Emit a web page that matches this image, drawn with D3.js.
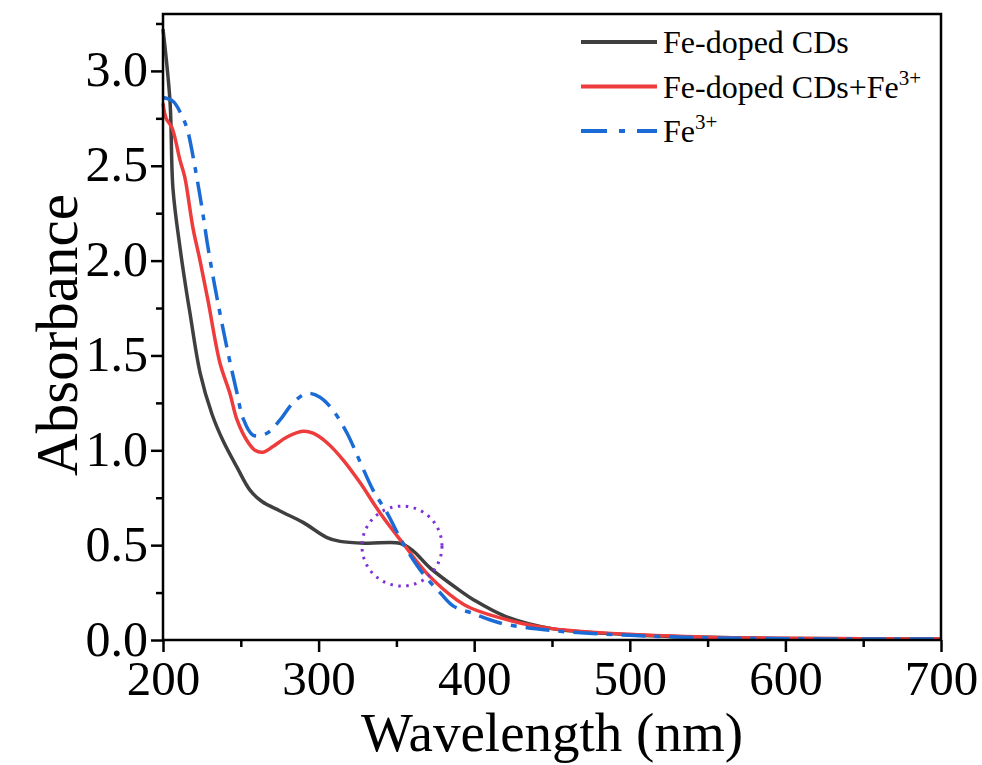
<!DOCTYPE html>
<html>
<head>
<meta charset="utf-8">
<script src="https://cdn.jsdelivr.net/npm/d3@7/dist/d3.min.js"></script>
<style>
  body { margin: 0; background: #fff; }
  svg { display: block; font-family: "Liberation Serif", "Times New Roman", serif; }
</style>
</head>
<body>
<div id="chart"></div>
<script>
// wavelength (nm) and absorbance
const cdsX = [200, 204.5, 206.4, 210.9, 215.4, 217.4, 223.8, 231.5, 238.6, 247.6, 255.9, 263.6, 275.2, 290, 305.4, 313.8, 331, 352.3, 360.7, 371.6, 390.9, 400, 420, 450, 500, 550, 600, 650, 700];
const cdsY = [3.22, 2.84, 2.38, 2.07, 1.82, 1.72, 1.41, 1.19, 1.05, 0.91, 0.79, 0.73, 0.68, 0.62, 0.54, 0.52, 0.51, 0.51, 0.47, 0.38, 0.26, 0.21, 0.125, 0.06, 0.028, 0.014, 0.008, 0.006, 0.005];

const mixX = [200, 202, 205.8, 210.9, 214, 219.3, 223.8, 228.9, 236.6, 243, 247.6, 254, 259.1, 264.3, 270.7, 279.7, 290, 296.4, 305.4, 315.7, 326.6, 339.5, 354.2, 369.7, 389, 397.3, 429.4, 450, 500, 550, 600, 650, 700];
const mixY = [2.83, 2.75, 2.70, 2.53, 2.44, 2.17, 2.0, 1.79, 1.46, 1.30, 1.16, 1.05, 1.0, 0.99, 1.02, 1.07, 1.10, 1.09, 1.04, 0.95, 0.83, 0.67, 0.51, 0.35, 0.21, 0.17, 0.09, 0.06, 0.03, 0.015, 0.009, 0.006, 0.005];

const feX = [200, 206.4, 212.9, 216, 220.6, 225, 228.9, 233.4, 241.1, 247.6, 251.4, 257.8, 266.8, 275.2, 283.5, 292.5, 300.9, 309.3, 318.3, 326.6, 335, 344, 354.2, 367.1, 378, 386.4, 399.2, 416.6, 450, 500, 550, 600, 650, 700];
const feY = [2.86, 2.84, 2.75, 2.68, 2.49, 2.28, 2.07, 1.86, 1.54, 1.30, 1.17, 1.08, 1.09, 1.16, 1.25, 1.30, 1.28, 1.21, 1.09, 0.94, 0.79, 0.67, 0.51, 0.35, 0.25, 0.18, 0.14, 0.09, 0.05, 0.025, 0.012, 0.007, 0.005, 0.005];

const seriesNames = ["Fe-doped CDs", "Fe-doped CDs+Fe", "Fe"];
const xTicks = [200, 300, 400, 500, 600, 700];
const yTicks = [0, 0.5, 1.0, 1.5, 2.0, 2.5, 3.0];
const mark = { x: 353.6, y: 0.495 }; // dotted circle round the crossing point

const width = 982, height = 765;
const margin = { top: 14, right: 41, bottom: 125, left: 163 };

const svg = d3.select('#chart')
  .append('svg')
  .attr('width', width)
  .attr('height', height);

const x = d3.scaleLinear().domain([200, 700]).range([margin.left, width - margin.right]);
const y = d3.scaleLinear().domain([0, 3.3]).range([height - margin.bottom, margin.top]);

const toPts = (xs, ys) => xs.map((v, i) => [v, ys[i]]);
const series = [
  { name: seriesNames[0], pts: toPts(cdsX, cdsY), color: '#3f3f3f', dash: null },
  { name: seriesNames[1], pts: toPts(mixX, mixY), color: '#ee3b3b', dash: null },
  { name: seriesNames[2], pts: toPts(feX, feY), color: '#1b6bd6', dash: '24,9,6,9' }
];

const line = d3.line()
  .x(d => x(d[0]))
  .y(d => y(d[1]))
  .curve(d3.curveCatmullRom.alpha(0.5));

// curves
svg.append('g')
  .selectAll('path')
  .data(series)
  .enter().append('path')
  .attr('d', d => line(d.pts))
  .attr('fill', 'none')
  .attr('stroke', d => d.color)
  .attr('stroke-width', 3.5)
  .attr('stroke-dasharray', d => d.dash);

// dotted circle
svg.append('circle')
  .attr('cx', x(mark.x))
  .attr('cy', y(mark.y))
  .attr('r', 40)
  .attr('fill', 'none')
  .attr('stroke', '#7d2fd8')
  .attr('stroke-width', 3)
  .attr('stroke-dasharray', '2.5,5.5');

// axes
const xAxis = d3.axisBottom(x).tickValues(xTicks).tickSize(12).tickFormat(d3.format('d'));
const xMinor = d3.axisBottom(x).tickValues([250, 350, 450, 550, 650]).tickSize(7).tickFormat('');
const yAxis = d3.axisLeft(y).tickValues(yTicks).tickSize(12).tickFormat(d3.format('.1f'));
const yMinor = d3.axisLeft(y).tickValues([0.25, 0.75, 1.25, 1.75, 2.25, 2.75, 3.25]).tickSize(7).tickFormat('');

const gx = svg.append('g').attr('transform', `translate(0,${y(0)})`).call(xAxis);
svg.append('g').attr('transform', `translate(0,${y(0)})`).call(xMinor);
const gy = svg.append('g').attr('transform', `translate(${x(200)},0)`).call(yAxis);
svg.append('g').attr('transform', `translate(${x(200)},0)`).call(yMinor);

svg.selectAll('.domain').remove();
svg.selectAll('.tick line').attr('stroke', '#000').attr('stroke-width', 2.5);

gx.selectAll('text')
  .attr('font-size', 49)
  .attr('font-family', '"Liberation Serif", serif')
  .attr('fill', '#000')
  .attr('y', 55)
  .attr('dy', 0);
gy.selectAll('text')
  .attr('font-size', 50)
  .attr('font-family', '"Liberation Serif", serif')
  .attr('fill', '#000')
  .attr('x', -15)
  .attr('dy', '0.3em');

// frame
svg.append('rect')
  .attr('x', x(200))
  .attr('y', y(3.3))
  .attr('width', x(700) - x(200))
  .attr('height', y(0) - y(3.3))
  .attr('fill', 'none')
  .attr('stroke', '#000')
  .attr('stroke-width', 2.5);

// axis titles
svg.append('text')
  .attr('x', (x(200) + x(700)) / 2)
  .attr('y', 751)
  .attr('text-anchor', 'middle')
  .attr('font-size', 55)
  .text('Wavelength (nm)');

svg.append('text')
  .attr('transform', `translate(77,335) rotate(-90)`)
  .attr('text-anchor', 'middle')
  .attr('font-size', 59)
  .text('Absorbance');

// legend
const legend = svg.append('g').attr('transform', 'translate(581,42)');
const rows = legend.selectAll('g')
  .data(series)
  .enter().append('g')
  .attr('transform', (d, i) => `translate(0,${i * 44.5})`);

rows.append('line')
  .attr('x1', 0).attr('x2', 76)
  .attr('stroke', d => d.color)
  .attr('stroke-width', 4)
  .attr('stroke-dasharray', d => d.dash ? '26,12,6,12' : null);

const labels = rows.append('text')
  .attr('x', 82)
  .attr('y', 11)
  .attr('font-size', 32)
  .text(d => d.name);

labels.filter((d, i) => i > 0)
  .append('tspan')
  .attr('dy', -13)
  .attr('font-size', 21)
  .text('3+');
</script>
</body>
</html>
